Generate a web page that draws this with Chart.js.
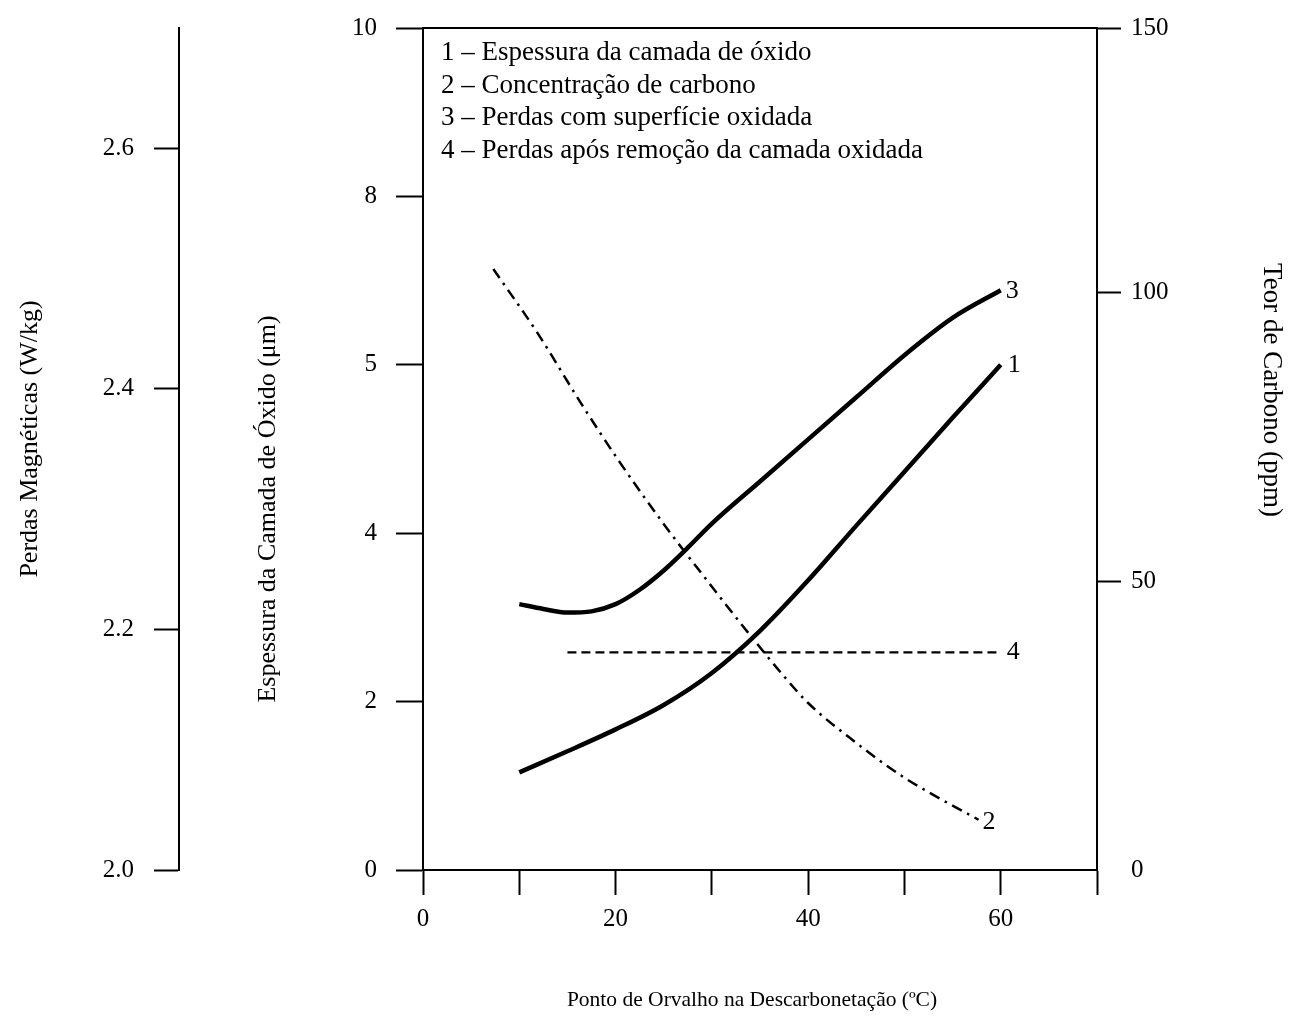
<!DOCTYPE html>
<html><head><meta charset="utf-8">
<script src="https://cdn.jsdelivr.net/npm/chart.js@4.4.1/dist/chart.umd.min.js"></script>
<style>html,body{margin:0;padding:0;background:#fff;}canvas{display:block;}</style>
</head><body>
<canvas id="c" width="1293" height="1029"></canvas>
<script>
// ---- tick labels ----
const dewPointTicks = [0, 10, 20, 30, 40, 50, 60, 70];
const dewPointLabels = ['0', '', '20', '', '40', '', '60', ''];
const thicknessTicks = [0, 2, 4, 6, 8, 10];
const thicknessLabels = ['0', '2', '4', '5', '8', '10'];
const lossTicks = [2.0, 2.2, 2.4, 2.6];
const lossLabels = ['2.0', '2.2', '2.4', '2.6'];
const carbonTicks = [0, 50, 100, 145.7];
const carbonLabels = ['0', '50', '100', '150'];

// ---- series ----
// 1 - Espessura da camada de óxido (µm)
const thicknessX = [10, 15, 20, 25, 30, 35, 40, 45, 50, 55, 60];
const thicknessY = [1.16, 1.41, 1.67, 1.96, 2.34, 2.84, 3.44, 4.09, 4.73, 5.37, 6.0];
// 2 - Concentração de carbono (ppm)
const carbonX = [7.3, 11.9, 16.4, 20.5, 25.7, 28.1, 33.7, 37.4, 40.0, 45.0, 49.6, 53.0, 57.7];
const carbonY = [104.0, 92.9, 80.8, 70.4, 58.3, 53.1, 41.2, 33.7, 28.9, 22.0, 16.4, 13.0, 8.7];
// 3 - Perdas com superfície oxidada (W/kg)
const lossOxX = [10, 12.5, 15, 17.5, 20, 22.5, 25, 27.5, 30, 35, 40, 45, 50, 55, 60];
const lossOxY = [2.221, 2.217, 2.214, 2.215, 2.221, 2.233, 2.249, 2.268, 2.288, 2.323, 2.358, 2.393, 2.428, 2.459, 2.482];
// 4 - Perdas após remoção da camada oxidada (W/kg)
const lossRemX = [15, 60];
const lossRemY = [2.181, 2.181];

const legendLines = [
  '1 – Espessura da camada de óxido',
  '2 – Concentração de carbono',
  '3 – Perdas com superfície oxidada',
  '4 – Perdas após remoção da camada oxidada'
];
const curveTags = ['1', '2', '3', '4'];
const titleX = 'Ponto de Orvalho na Descarbonetação (ºC)';
const titleThickness = 'Espessura da Camada de Óxido (μm)';
const titleLoss = 'Perdas Magnéticas (W/kg)';
const titleCarbon = 'Teor de Carbono (ppm)';

const FAM = '"Liberation Serif", "Times New Roman", serif';
Chart.defaults.font.family = FAM;
Chart.defaults.color = '#000';

const pts = (xs, ys) => xs.map((x, i) => ({x: x, y: ys[i]}));
const lbl = (vals, labels) => (v) => { const i = vals.indexOf(v); return i >= 0 ? labels[i] : ''; };
const setTicks = (vals) => (s) => { s.ticks = vals.map(v => ({value: v})); };
const fitV = (w) => (s) => { s.width = w; s.paddingTop = 0; s.paddingBottom = 0; };
const tickFont = {family: FAM, size: 25};

const textPlugin = {
  id: 'texts',
  afterDraw(chart) {
    const ctx = chart.ctx, a = chart.chartArea;
    ctx.save();
    ctx.fillStyle = '#000';
    ctx.textBaseline = 'middle';
    // legend
    ctx.font = '27px ' + FAM;
    ctx.textAlign = 'left';
    legendLines.forEach((t, i) => ctx.fillText(t, a.left + 18, a.top + 25 + i * 32.5));
    // curve tags
    ctx.font = '26px ' + FAM;
    const offs = [[7, 0], [4, 2], [5, 1], [6, 0]];
    [0, 1, 2, 3].forEach(i => {
      const d = chart.getDatasetMeta(i).data;
      const p = d[d.length - 1];
      ctx.fillText(curveTags[i], p.x + offs[i][0], p.y + offs[i][1]);
    });
    // axis titles
    ctx.textAlign = 'center';
    ctx.font = '21.5px ' + FAM;
    ctx.fillText(titleX, 752, 1000);
    ctx.font = '26px ' + FAM;
    ctx.save(); ctx.translate(30, 439); ctx.rotate(-Math.PI / 2); ctx.fillText(titleLoss, 0, 0); ctx.restore();
    ctx.save(); ctx.translate(268, 509); ctx.rotate(-Math.PI / 2); ctx.fillText(titleThickness, 0, 0); ctx.restore();
    ctx.font = '27px ' + FAM;
    ctx.save(); ctx.translate(1271, 390); ctx.rotate(Math.PI / 2); ctx.fillText(titleCarbon, 0, 0); ctx.restore();
    ctx.restore();
  }
};

const lineBase = {pointRadius: 0, borderColor: '#000', fill: false, cubicInterpolationMode: 'monotone', borderCapStyle: 'butt'};

new Chart(document.getElementById('c'), {
  type: 'line',
  data: {
    datasets: [
      Object.assign({label: legendLines[0], data: pts(thicknessX, thicknessY), yAxisID: 'yT', borderWidth: 4.5}, lineBase),
      Object.assign({label: legendLines[1], data: pts(carbonX, carbonY), yAxisID: 'yC', borderWidth: 2.5, borderDash: [11, 6, 2.5, 6]}, lineBase),
      Object.assign({label: legendLines[2], data: pts(lossOxX, lossOxY), yAxisID: 'yL', borderWidth: 4.5}, lineBase),
      Object.assign({label: legendLines[3], data: pts(lossRemX, lossRemY), yAxisID: 'yL', borderWidth: 2.2, borderDash: [9, 5]}, lineBase)
    ]
  },
  options: {
    responsive: false,
    animation: false,
    devicePixelRatio: 1,
    layout: {padding: 0},
    plugins: {legend: {display: false}, tooltip: {enabled: false}},
    scales: {
      x: {
        type: 'linear', position: 'bottom', min: 0, max: 70,
        afterBuildTicks: setTicks(dewPointTicks),
        afterFit: (s) => { s.height = 159; s.paddingLeft = 0; s.paddingRight = 0; },
        ticks: {callback: lbl(dewPointTicks, dewPointLabels), font: tickFont, color: '#000', padding: 9, autoSkip: false, maxRotation: 0},
        grid: {display: true, drawOnChartArea: false, drawTicks: true, tickLength: 25, tickWidth: 2, tickColor: '#000'},
        border: {display: true, color: '#000', width: 2}
      },
      x2: {
        type: 'linear', position: 'top', min: 0, max: 70,
        afterFit: (s) => { s.height = 28; s.paddingLeft = 0; s.paddingRight = 0; },
        ticks: {display: false},
        grid: {display: false},
        border: {display: true, color: '#000', width: 2}
      },
      yT: {
        type: 'linear', position: 'left', weight: 0, min: 0, max: 10,
        afterBuildTicks: setTicks(thicknessTicks),
        afterFit: fitV(244),
        ticks: {callback: lbl(thicknessTicks, thicknessLabels), font: tickFont, color: '#000', padding: 19, autoSkip: false},
        grid: {display: true, drawOnChartArea: false, drawTicks: true, tickLength: 27, tickWidth: 2, tickColor: '#000'},
        border: {display: true, color: '#000', width: 2}
      },
      yL: {
        type: 'linear', position: 'left', weight: 1, min: 2.0, max: 2.7,
        afterBuildTicks: setTicks(lossTicks),
        afterFit: fitV(179),
        ticks: {callback: lbl(lossTicks, lossLabels), font: tickFont, color: '#000', padding: 20, autoSkip: false},
        grid: {display: true, drawOnChartArea: false, drawTicks: true, tickLength: 25, tickWidth: 2, tickColor: '#000'},
        border: {display: true, color: '#000', width: 2}
      },
      yC: {
        type: 'linear', position: 'right', min: 0, max: 145.7,
        afterBuildTicks: setTicks(carbonTicks),
        afterFit: fitV(196),
        ticks: {callback: lbl(carbonTicks, carbonLabels), font: tickFont, color: '#000', padding: 10, autoSkip: false},
        grid: {display: true, drawOnChartArea: false, drawTicks: true, tickLength: 24, tickWidth: 2,
               tickColor: (c) => (c.tick && c.tick.value === 0) ? 'rgba(0,0,0,0)' : '#000'},
        border: {display: true, color: '#000', width: 2}
      }
    }
  },
  plugins: [textPlugin]
});
</script>
</body></html>
